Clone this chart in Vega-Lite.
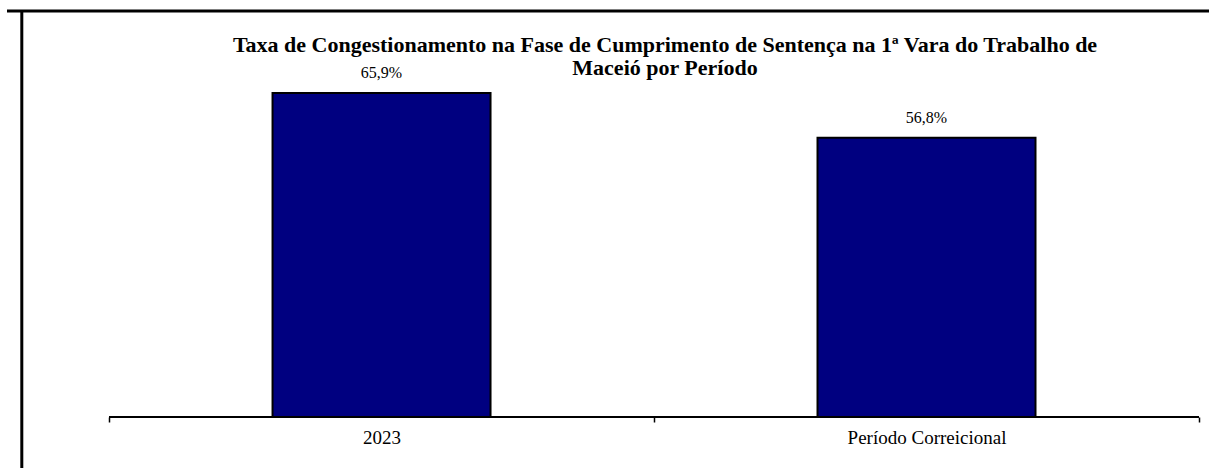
{
  "$schema": "https://vega.github.io/schema/vega-lite/v6.json",
  "width": 1202,
  "height": 457,
  "autosize": {"type": "none"},
  "padding": {"left": 7, "top": 11, "right": 0, "bottom": 0},
  "background": "white",
  "config": {
    "locale": {"number": {"decimal": ",", "thousands": ".", "grouping": [3], "currency": ["R$ ", ""]}},
    "view": {"stroke": null}
  },
  "title": {
    "text": ["Taxa de Congestionamento na Fase de Cumprimento  de Sentença na 1ª Vara do Trabalho de", "Maceió por Período"],
    "font": "Liberation Serif",
    "fontSize": 22,
    "fontWeight": "bold",
    "color": "black",
    "anchor": "middle",
    "dx": 57,
    "offset": -70,
    "lineHeight": 23
  },
  "data": {"values": [
    {"periodo": "2023", "taxa": 0.659},
    {"periodo": "Período Correicional", "taxa": 0.568}
  ]},
  "layer": [
    {
      "encoding": {
        "x": {
          "field": "periodo",
          "type": "nominal",
          "sort": null,
          "scale": {"paddingInner": 0, "paddingOuter": 0.1028, "align": 0.9107},
          "axis": {
            "title": null,
            "domain": false,
            "grid": false,
            "tickBand": "extent",
            "tickSize": 5,
            "tickWidth": 1.5,
            "tickColor": "black",
            "labelFont": "Liberation Serif",
            "labelFontSize": 19,
            "labelColor": "black",
            "labelPadding": 6,
            "labelAngle": 0,
            "offset": -51
          }
        },
        "y": {
          "field": "taxa",
          "type": "quantitative",
          "scale": {"domain": [-0.1037, 0.8257], "nice": false, "zero": false},
          "axis": null
        }
      },
      "layer": [
        {"mark": {"type": "bar", "color": "#000080", "stroke": "black", "strokeWidth": 2, "width": {"band": 0.4}}},
        {
          "mark": {"type": "text", "font": "Liberation Serif", "fontSize": 16, "color": "black", "baseline": "alphabetic", "dy": -15},
          "encoding": {"text": {"field": "taxa", "type": "quantitative", "format": ".1%"}}
        }
      ]
    },
    {
      "data": {"values": [{"linha": "eixo"}]},
      "layer": [
        {
          "mark": {"type": "rule", "color": "black", "strokeWidth": 2},
          "encoding": {
            "x": {"datum": 0, "type": "quantitative", "scale": {"domain": [-0.09358, 1.00917], "nice": false, "zero": false}, "axis": null},
            "x2": {"datum": 1},
            "y": {"datum": 0, "type": "quantitative", "axis": null}
          }
        },
        {
          "mark": {"type": "rule", "color": "black", "strokeWidth": 3},
          "encoding": {
            "x": {"datum": -0.08, "type": "quantitative", "scale": {"domain": [-0.09358, 1.00917], "nice": false, "zero": false}, "axis": null},
            "y": {"datum": -0.1037, "type": "quantitative", "axis": null},
            "y2": {"datum": 0.8257}
          }
        },
        {
          "mark": {"type": "rule", "color": "black", "strokeWidth": 3},
          "encoding": {
            "x": {"datum": -0.09358, "type": "quantitative", "scale": {"domain": [-0.09358, 1.00917], "nice": false, "zero": false}, "axis": null},
            "x2": {"datum": 1.00917},
            "y": {"datum": 0.8257, "type": "quantitative", "axis": null}
          }
        }
      ]
    }
  ],
  "resolve": {"scale": {"x": "independent"}}
}
